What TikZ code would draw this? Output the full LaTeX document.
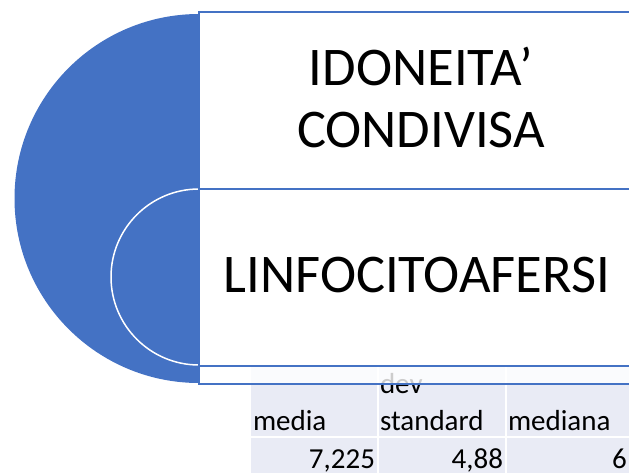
\documentclass[tikz,border=0pt]{standalone}
\usepackage{fontspec}
\setmainfont{Carlito}
\usetikzlibrary{positioning}
\definecolor{smartblue}{HTML}{4472C4}
\definecolor{cellfill}{HTML}{E9EBF5}

\begin{document}
\begin{tikzpicture}
	[x=1pt,y=1pt,every node/.style={inner sep=0pt,outer sep=0pt},
	 box/.style={rectangle,draw=smartblue,line width=1.5pt,fill=white,minimum width=444pt},
	 bigtext/.style={align=center,font=\fontsize{54.5}{62}\selectfont},
	 tab/.style={font=\fontsize{29}{37}\selectfont}]
	\useasboundingbox (0,0) rectangle (629,-472);
	\clip (0,0) rectangle (629,-472);
	
	% table behind the boxes
	\foreach \x in {251,379,507}{
		\fill[cellfill] (\x,-350) rectangle ++(126,-86);
		\fill[cellfill] (\x,-438) rectangle ++(126,-40);
	}
	\node[tab,anchor=base west] (media) at (253,-430) {media};
	\node[tab,anchor=base west] (dev) at (380,-393) {dev};
	\node[tab,anchor=base west] (standard) at (380,-430) {standard};
	\node[tab,anchor=base west] (mediana) at (508,-430) {mediana};
	\node[tab,anchor=base east] (v1) at (375,-468) {7,225};
	\node[tab,anchor=base east] (v2) at (503,-468) {4,88};
	\node[tab,anchor=base west] (v3) at (612,-468) {6};
	
	% half discs
	\fill[smartblue] (199,-14) arc (90:270:184.5) -- cycle;
	\draw[white,line width=1.5pt] (199,-189) arc (90:270:88);
	
	% boxes
	\node[box,minimum height=177pt] (idon) at (421,-100.5) {};
	\node[box,minimum height=177pt] (linfo) at (421,-277.5) {};
	\node[box,minimum height=18pt,fill opacity=.8,draw opacity=1] (strip) at (421,-375) {};
	\node[bigtext] (idontext) at ([yshift=3.5pt]idon.center) {IDONEITA’\\CONDIVISA};
	\node[bigtext] (linfotext) at ([xshift=-4pt,yshift=3pt]linfo.center) {LINFOCITOAFERSI};
\end{tikzpicture}
\end{document}
